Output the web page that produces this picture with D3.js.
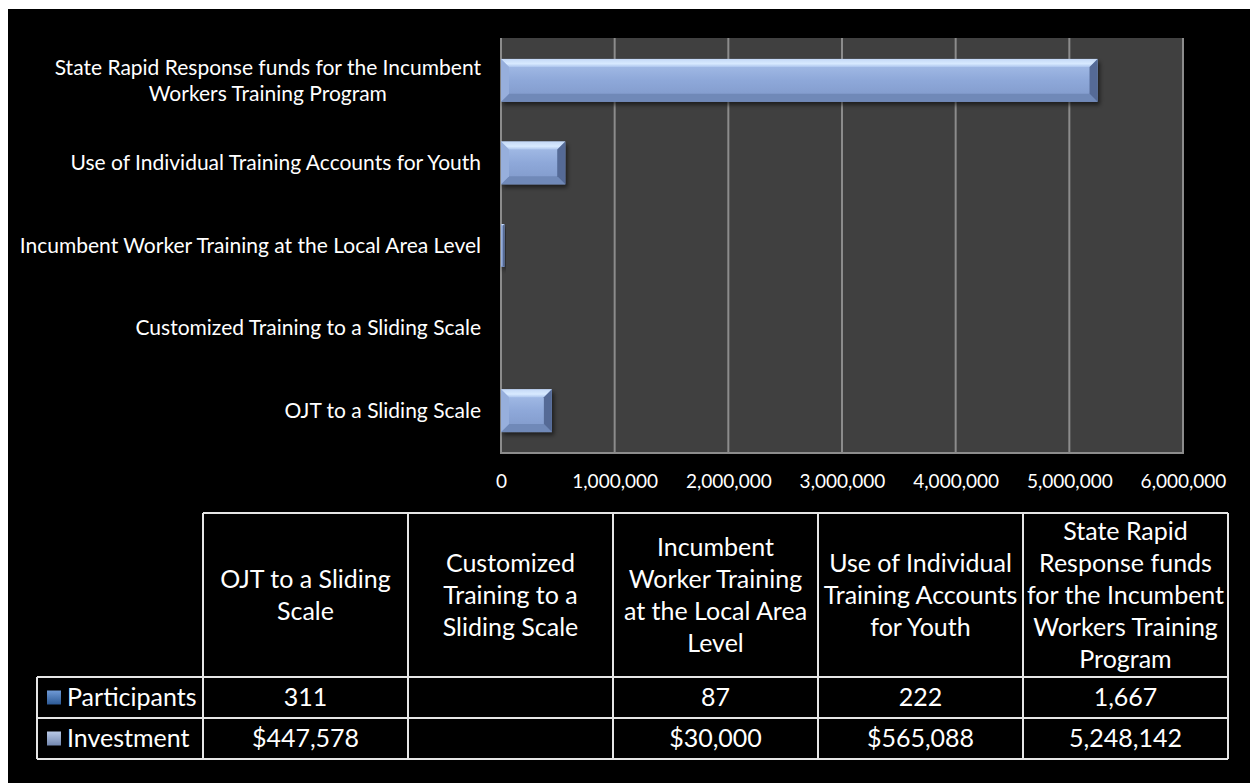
<!DOCTYPE html>
<html>
<head>
<meta charset="utf-8">
<script src="https://cdn.jsdelivr.net/npm/d3@7"></script>
<style>
  html, body { margin: 0; padding: 0; background: #fff; }
  svg { display: block; font-family: Lato, "Open Sans", sans-serif; }
</style>
</head>
<body>
<svg></svg>
<script>
// data, in the order of the table (left to right)
const categories = [
  "OJT to a Sliding Scale",
  "Customized Training to a Sliding Scale",
  "Incumbent Worker Training at the Local Area Level",
  "Use of Individual Training Accounts for Youth",
  "State Rapid Response funds for the Incumbent Workers Training Program"
];
const participants = [311, null, 87, 222, 1667];
const investment = [447578, null, 30000, 565088, 5248142];
const participantsText = ["311", "", "87", "222", "1,667"];
const investmentText = ["$447,578", "", "$30,000", "$565,088", "5,248,142"];
const xTicks = [0, 1000000, 2000000, 3000000, 4000000, 5000000, 6000000];

// how the long names wrap
const axisLines = [
  ["OJT to a Sliding Scale"],
  ["Customized Training to a Sliding Scale"],
  ["Incumbent Worker Training at the Local Area Level"],
  ["Use of Individual Training Accounts for Youth"],
  ["State Rapid Response funds for the Incumbent", "Workers Training Program"]
];
const headerLines = [
  ["OJT to a Sliding", "Scale"],
  ["Customized", "Training to a", "Sliding Scale"],
  ["Incumbent", "Worker Training", "at the Local Area", "Level"],
  ["Use of Individual", "Training Accounts", "for Youth"],
  ["State Rapid", "Response funds", "for the Incumbent", "Workers Training", "Program"]
];
const seriesNames = ["Participants", "Investment"];

const width = 1250, height = 783;
const svg = d3.select("svg").attr("width", width).attr("height", height);

svg.append("rect").attr("width", width).attr("height", height).attr("fill", "#fff");
svg.append("rect").attr("x", 8).attr("y", 9).attr("width", width - 8).attr("height", height - 9).attr("fill", "#000");

const defs = svg.append("defs");
const face = defs.append("linearGradient").attr("id", "face").attr("x1", 0).attr("y1", 0).attr("x2", 0).attr("y2", 1);
face.append("stop").attr("offset", "0%").attr("stop-color", "#a9c1ea");
face.append("stop").attr("offset", "50%").attr("stop-color", "#8ea8d9");
face.append("stop").attr("offset", "100%").attr("stop-color", "#7f98c9");
const topBevel = defs.append("linearGradient").attr("id", "topBevel").attr("x1", 0).attr("y1", 0).attr("x2", 0).attr("y2", 1);
topBevel.append("stop").attr("offset", "0%").attr("stop-color", "#c4d8f6");
topBevel.append("stop").attr("offset", "60%").attr("stop-color", "#d8eaff");
topBevel.append("stop").attr("offset", "100%").attr("stop-color", "#aec6ee");
const shadow = defs.append("filter").attr("id", "shadow").attr("x", "-10%").attr("y", "-20%").attr("width", "130%").attr("height", "160%");
shadow.append("feDropShadow").attr("dx", 2).attr("dy", 3).attr("stdDeviation", 2)
  .attr("flood-color", "#000").attr("flood-opacity", 0.55);

const keyDark = defs.append("linearGradient").attr("id", "keyDark").attr("x1", 0).attr("y1", 0).attr("x2", 0).attr("y2", 1);
keyDark.append("stop").attr("offset", "0%").attr("stop-color", "#6f9ad6");
keyDark.append("stop").attr("offset", "100%").attr("stop-color", "#2d5a96");
const keyLight = defs.append("linearGradient").attr("id", "keyLight").attr("x1", 0).attr("y1", 0).attr("x2", 0).attr("y2", 1);
keyLight.append("stop").attr("offset", "0%").attr("stop-color", "#b9c9e6");
keyLight.append("stop").attr("offset", "100%").attr("stop-color", "#7388b0");

// plot area
const plot = { left: 501, right: 1183, top: 38, bottom: 453 };

const x = d3.scaleLinear().domain([0, 6000000]).range([plot.left, plot.right]);
const y = d3.scaleBand()
  .domain(categories.slice().reverse())
  .range([plot.top, plot.bottom])
  .paddingInner(0.482)
  .paddingOuter(0.253);

svg.append("rect")
  .attr("x", plot.left).attr("y", plot.top)
  .attr("width", plot.right - plot.left).attr("height", plot.bottom - plot.top)
  .attr("fill", "#404040");

svg.append("g").selectAll("line")
  .data(xTicks)
  .enter().append("line")
  .attr("x1", d => x(d)).attr("x2", d => x(d))
  .attr("y1", plot.top).attr("y2", plot.bottom)
  .attr("stroke", "#8c8c8c").attr("stroke-width", 2);

svg.append("line")
  .attr("x1", plot.left - 1).attr("x2", plot.right + 1)
  .attr("y1", plot.bottom).attr("y2", plot.bottom)
  .attr("stroke", "#8c8c8c").attr("stroke-width", 2);

// bars with a bevelled look
function bevelBar(g, x0, x1, y0, y1, dark) {
  const w = x1 - x0;
  if (w <= 0) return;
  const b = Math.min(8, w / 2);
  const grp = g.append("g").attr("filter", "url(#shadow)");
  grp.append("rect").attr("x", x0).attr("y", y0).attr("width", w).attr("height", y1 - y0)
    .attr("fill", dark ? "#4f81bd" : "url(#face)");
  if (dark) return;
  grp.append("polygon").attr("points", [[x0, y0], [x1, y0], [x1 - b, y0 + b], [x0 + b, y0 + b]].join(" "))
    .attr("fill", "url(#topBevel)");
  grp.append("polygon").attr("points", [[x0, y1], [x1, y1], [x1 - b, y1 - b], [x0 + b, y1 - b]].join(" "))
    .attr("fill", "#7089b8");
  grp.append("polygon").attr("points", [[x0, y0], [x0 + b, y0 + b], [x0 + b, y1 - b], [x0, y1]].join(" "))
    .attr("fill", "#97afdc");
  grp.append("polygon").attr("points", [[x1, y0], [x1 - b, y0 + b], [x1 - b, y1 - b], [x1, y1]].join(" "))
    .attr("fill", "#546a96");
}

const bars = svg.append("g");
categories.forEach((c, i) => {
  const y0 = y(c), y1 = y(c) + y.bandwidth();
  if (participants[i]) bevelBar(bars, x(0), x(participants[i]), y0, y1, true);
  if (investment[i]) bevelBar(bars, x(0), x(investment[i]), y0, y1, false);
});

// value axis
const xAxis = svg.append("g")
  .attr("transform", `translate(0,${plot.bottom})`)
  .call(d3.axisBottom(x).tickValues(xTicks).tickFormat(d3.format(",")).tickSize(0).tickPadding(22));
xAxis.select(".domain").remove();
xAxis.selectAll("text").attr("fill", "#fff").style("font-size", "19px").style("font-family", "Lato, sans-serif");

// category labels
const catLabels = svg.append("g").style("font-size", "21px").attr("fill", "#fff");
categories.forEach((c, i) => {
  const lines = axisLines[i];
  const cy = y(c) + y.bandwidth() / 2;
  const lh = 26;
  const t = catLabels.append("text").attr("text-anchor", "end");
  const first = t.append("tspan").attr("x", 481).attr("y", cy - (lines.length - 1) * lh / 2).attr("dy", "0.35em").text(lines[0]);
  if (lines.length > 1) {
    const w = first.node().getComputedTextLength();
    lines.slice(1).forEach((l, k) => {
      catLabels.append("text").attr("text-anchor", "middle")
        .attr("x", 481 - w / 2).attr("y", cy - (lines.length - 1) * lh / 2 + (k + 1) * lh)
        .attr("dy", "0.35em").text(l);
    });
  }
});

// data table
const col = d3.scaleBand().domain(categories).range([203, 1228]);
const tableLeft = 37;
const rows = { top: 513, header: 677, mid: 718, bottom: 759 };
const table = svg.append("g").attr("fill", "#fff").style("font-size", "25px");
const lineColor = "#e6e6e6";

// grid of the table
table.append("line").attr("x1", 203).attr("x2", 1228).attr("y1", rows.top).attr("y2", rows.top);
[rows.header, rows.mid, rows.bottom].forEach(yy => {
  table.append("line").attr("x1", tableLeft).attr("x2", 1228).attr("y1", yy).attr("y2", yy);
});
table.append("line").attr("x1", tableLeft).attr("x2", tableLeft).attr("y1", rows.header).attr("y2", rows.bottom);
categories.concat([null]).forEach((c, i) => {
  const xx = c ? col(c) : 1228;
  table.append("line").attr("x1", xx).attr("x2", xx).attr("y1", rows.top).attr("y2", rows.bottom);
});
table.selectAll("line").attr("stroke", lineColor).attr("stroke-width", 2);

// header text
categories.forEach((c, i) => {
  const lines = headerLines[i];
  const cx = col(c) + col.bandwidth() / 2;
  const cy = (rows.top + rows.header) / 2;
  const lh = 32;
  const t = table.append("text").attr("text-anchor", "middle");
  lines.forEach((l, k) => {
    t.append("tspan").attr("x", cx).attr("y", cy + (k - (lines.length - 1) / 2) * lh).attr("dy", "0.35em").text(l);
  });
});

// series rows
const rowText = [participantsText, investmentText];
const rowY = [(rows.header + rows.mid) / 2, (rows.mid + rows.bottom) / 2];
seriesNames.forEach((s, r) => {
  table.append("rect").attr("x", 47).attr("y", rowY[r] - 7).attr("width", 14).attr("height", 14)
    .attr("fill", r === 0 ? "url(#keyDark)" : "url(#keyLight)");
  table.append("text").attr("x", 67).attr("y", rowY[r]).attr("dy", "0.35em").text(s);
  categories.forEach((c, i) => {
    table.append("text").attr("text-anchor", "middle")
      .attr("x", col(c) + col.bandwidth() / 2).attr("y", rowY[r]).attr("dy", "0.35em")
      .text(rowText[r][i]);
  });
});
</script>
</body>
</html>
